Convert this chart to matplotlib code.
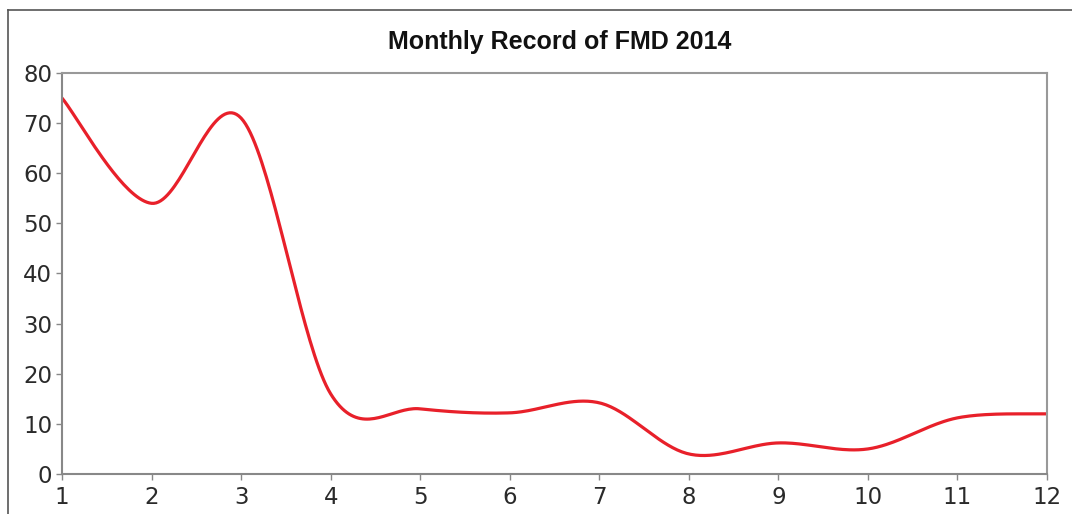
import matplotlib.pyplot as plt
from matplotlib.lines import Line2D
import numpy as np

months = [1, 2, 3, 4, 5, 6, 7, 8, 9, 10, 11, 12]
cases = [75, 54, 71, 16, 13, 12.2, 14.2, 4, 6.2, 5, 11.2, 12]


def smooth_line(xs, ys, steps=40):
    # Excel-style smoothed line: cubic Bezier between points, Catmull-Rom control points
    xs = np.asarray(xs, float)
    ys = np.asarray(ys, float)
    n = len(xs)
    px = np.concatenate([[xs[0]], xs, [xs[-1]]])
    py = np.concatenate([[ys[0]], ys, [ys[-1]]])
    out_x, out_y = [], []
    t = np.linspace(0, 1, steps)
    for i in range(n - 1):
        p0 = np.array([px[i + 1], py[i + 1]])
        p3 = np.array([px[i + 2], py[i + 2]])
        c1 = p0 + (np.array([px[i + 2], py[i + 2]]) - np.array([px[i], py[i]])) / 6
        c2 = p3 - (np.array([px[i + 3], py[i + 3]]) - np.array([px[i + 1], py[i + 1]])) / 6
        b = ((1 - t) ** 3)[:, None] * p0 + (3 * (1 - t) ** 2 * t)[:, None] * c1 \
            + (3 * (1 - t) * t ** 2)[:, None] * c2 + (t ** 3)[:, None] * p3
        out_x.extend(b[:, 0])
        out_y.extend(b[:, 1])
    return out_x, out_y


plt.rcParams['font.family'] = ['DejaVu Sans']

fig = plt.figure(figsize=(10.72, 5.14), dpi=100)
ax = fig.add_axes([62 / 1072, 40 / 514, 985 / 1072, 401 / 514])

sx, sy = smooth_line(months, cases)
ax.plot(sx, sy, color='#e8202a', linewidth=2.3, solid_capstyle='round')

ax.set_xlim(1, 12)
ax.set_ylim(0, 80)
ax.set_xticks(months)
ax.set_yticks(range(0, 81, 10))
ax.tick_params(axis='both', labelsize=16.5, colors='#888888', labelcolor='#2a2a2a',
               length=4, width=1, direction='out')
ax.tick_params(axis='x', pad=5)
ax.tick_params(axis='y', pad=3)
for side in ['left', 'bottom']:
    ax.spines[side].set_color('#888888')
    ax.spines[side].set_linewidth(1.5)
for side in ['top', 'right']:
    ax.spines[side].set_color('#999999')
    ax.spines[side].set_linewidth(1.5)

fig.text(560 / 1072, 1 - 42 / 514, 'Monthly Record of FMD 2014', ha='center', va='center',
         fontsize=18, fontweight='bold', family='Liberation Sans', color='#111111')

# outer frame of the original figure (cropped at right and bottom)
fig.add_artist(Line2D([8 / 1072, 1], [1 - 10 / 514, 1 - 10 / 514], color='#555555', linewidth=1.2))
fig.add_artist(Line2D([8 / 1072, 8 / 1072], [0, 1 - 10 / 514], color='#555555', linewidth=1.2))

plt.savefig('out.png', dpi=100)
plt.close()
